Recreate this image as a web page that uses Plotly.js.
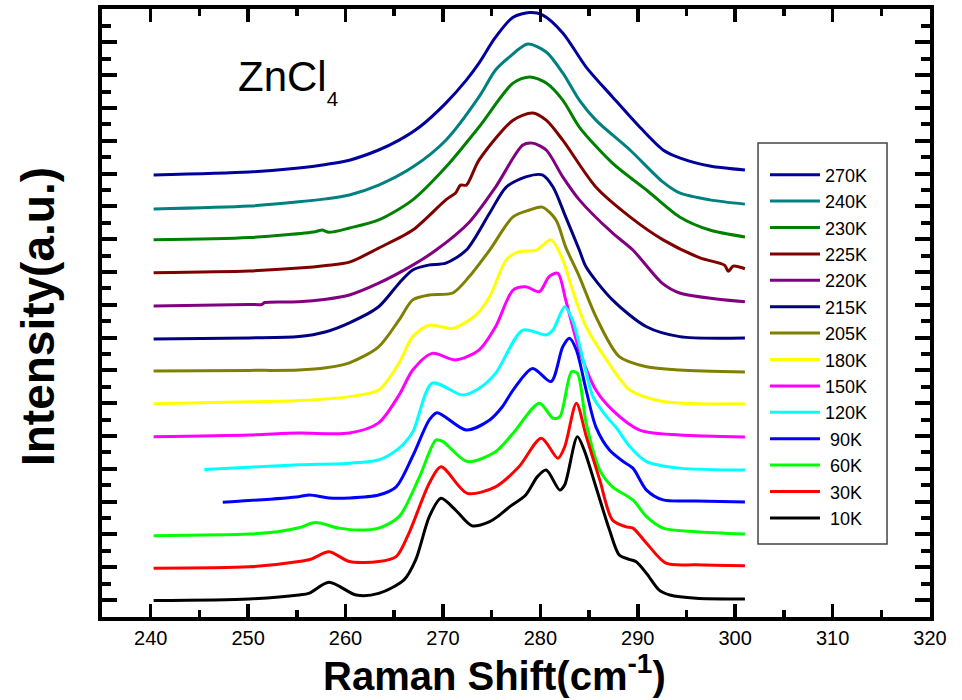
<!DOCTYPE html>
<html>
<head>
<meta charset="utf-8">
<script src="https://cdn.plot.ly/plotly-3.0.1.min.js"></script>
<style>html,body{margin:0;padding:0;background:#fff;}#chart{width:962px;height:700px;}</style>
</head>
<body>
<div id="chart"></div>
<script>
// Raman spectra of ZnCl4, offset by temperature
const labels = ['270K','240K','230K','225K','220K','215K','205K','180K','150K','120K','90K','60K','30K','10K'];
const colors = ['#00009c','#008080','#008000','#800000','#800080','#000080','#808000','#ffff00','#ff00ff','#00ffff','#0000ff','#00ff00','#ff0000','#000000'];

const x_270K = [240.3, 250.1, 255.2, 258.0, 260.4, 263.4, 265.5, 267.6, 270.3, 272.4, 273.7, 275.4, 277.2, 278.9, 280.2, 282.3, 284.7, 287.4, 290.2, 292.6, 294.3, 297.4, 301.0];
const y_270K = [12.96, 13.05, 13.17, 13.28, 13.41, 13.72, 14.02, 14.42, 15.15, 15.85, 16.37, 17.16, 17.77, 17.91, 17.84, 17.29, 16.25, 15.34, 14.42, 13.72, 13.48, 13.23, 13.11];

const x_240K = [240.3, 250.1, 255.2, 258.0, 260.4, 263.4, 266.9, 270.3, 273.7, 275.4, 276.8, 278.7, 280.6, 282.3, 284.0, 285.7, 289.2, 292.6, 294.3, 297.4, 301.0];
const y_240K = [11.92, 12.01, 12.14, 12.23, 12.35, 12.65, 13.20, 14.02, 15.34, 16.16, 16.55, 16.95, 16.71, 16.07, 15.24, 14.63, 13.72, 12.74, 12.41, 12.20, 12.07];

const x_230K = [240.3, 250.1, 256.9, 257.6, 258.3, 260.4, 263.4, 266.9, 270.3, 273.7, 277.2, 278.9, 280.6, 282.3, 284.0, 287.4, 290.9, 294.3, 297.4, 301.0];
const y_230K = [10.98, 11.05, 11.23, 11.28, 11.21, 11.34, 11.59, 12.20, 13.20, 14.42, 15.76, 15.95, 15.76, 15.24, 14.42, 13.32, 12.50, 11.68, 11.28, 11.07];

const x_225K = [240.3, 250.1, 255.2, 258.0, 260.4, 263.4, 266.9, 270.3, 271.3, 271.8, 272.4, 273.7, 277.2, 279.2, 280.6, 282.3, 285.7, 289.2, 292.6, 296.4, 298.9, 299.3, 299.8, 301.0];
const y_225K = [9.98, 10.03, 10.12, 10.20, 10.30, 10.73, 11.28, 12.20, 12.41, 12.65, 12.65, 13.41, 14.63, 14.85, 14.63, 14.02, 12.59, 11.68, 10.98, 10.43, 10.21, 10.02, 10.18, 10.10];

const x_220K = [240.3, 250.1, 251.4, 251.7, 255.2, 258.0, 260.4, 263.4, 266.9, 269.3, 272.7, 275.4, 278.2, 279.2, 280.6, 282.3, 284.0, 287.4, 289.5, 292.5, 294.3, 301.0];
const y_220K = [8.96, 9.01, 9.01, 9.07, 9.09, 9.17, 9.30, 9.66, 10.21, 10.67, 11.52, 12.59, 13.87, 13.93, 13.72, 12.90, 12.20, 11.19, 10.67, 9.66, 9.36, 9.09];

const x_215K = [240.3, 250.1, 255.2, 258.0, 260.4, 263.4, 265.5, 266.9, 268.5, 270.3, 272.4, 274.8, 276.5, 278.5, 280.2, 281.3, 282.6, 284.0, 284.7, 287.4, 290.9, 294.3, 301.0];
const y_215K = [7.96, 7.99, 8.03, 8.18, 8.45, 8.94, 9.66, 10.06, 10.21, 10.27, 10.67, 11.80, 12.59, 12.90, 12.96, 12.59, 11.68, 10.67, 10.15, 9.15, 8.33, 8.03, 7.99];

const x_205K = [240.3, 250.1, 255.2, 258.0, 260.4, 263.4, 265.5, 266.9, 268.6, 271.0, 272.7, 274.8, 277.2, 278.9, 280.2, 281.6, 282.6, 284.0, 285.7, 288.1, 290.9, 294.3, 301.0];
const y_205K = [6.98, 7.00, 7.01, 7.08, 7.23, 7.72, 8.54, 9.15, 9.30, 9.36, 9.86, 10.67, 11.68, 11.89, 11.98, 11.59, 10.76, 9.86, 8.64, 7.42, 7.11, 7.01, 6.95];

const x_180K = [240.3, 250.1, 255.2, 260.4, 263.4, 265.5, 266.9, 268.6, 271.0, 273.4, 274.8, 276.5, 277.8, 279.6, 281.1, 282.3, 283.3, 284.7, 286.8, 289.2, 292.6, 301.0];
const y_180K = [5.98, 6.04, 6.08, 6.20, 6.40, 7.23, 8.03, 8.38, 8.28, 8.69, 9.25, 10.37, 10.62, 10.67, 10.98, 10.37, 9.45, 8.33, 7.32, 6.40, 6.05, 5.98];

const x_150K = [240.3, 250.1, 255.2, 260.4, 263.4, 265.5, 266.9, 268.9, 271.3, 273.7, 275.4, 277.2, 278.5, 279.9, 280.9, 281.8, 282.6, 284.0, 285.7, 287.4, 290.2, 294.3, 301.0];
const y_150K = [4.98, 5.03, 5.09, 5.09, 5.40, 6.25, 7.01, 7.52, 7.32, 7.62, 8.33, 9.45, 9.55, 9.40, 9.86, 9.96, 9.15, 7.62, 6.40, 5.79, 5.18, 5.03, 4.97];

const x_120K = [245.5, 250.1, 255.2, 260.4, 263.4, 265.5, 266.9, 268.9, 272.0, 273.7, 275.4, 278.2, 280.6, 281.3, 282.5, 283.3, 284.4, 285.4, 286.8, 287.8, 289.2, 290.9, 294.3, 301.0];
const y_120K = [3.98, 4.05, 4.12, 4.17, 4.27, 4.63, 5.12, 6.61, 6.25, 6.45, 6.91, 8.23, 8.08, 8.23, 8.94, 8.54, 7.32, 6.20, 5.59, 5.25, 4.67, 4.22, 4.02, 3.96];

const x_90K = [247.4, 250.1, 255.2, 256.3, 258.3, 260.4, 263.4, 265.2, 266.9, 268.6, 269.4, 272.4, 274.8, 276.1, 277.2, 279.2, 281.1, 282.3, 283.0, 283.7, 284.7, 285.7, 287.1, 288.5, 289.5, 290.9, 292.6, 296.0, 301.0];
const y_90K = [2.98, 3.03, 3.15, 3.20, 3.11, 3.11, 3.20, 3.45, 4.39, 5.49, 5.71, 5.18, 5.49, 5.89, 6.40, 7.06, 6.66, 7.72, 7.98, 7.62, 6.40, 5.28, 4.57, 4.22, 4.02, 3.35, 3.05, 3.02, 2.99];

const x_60K = [240.3, 250.1, 253.0, 255.2, 256.9, 259.3, 261.4, 263.4, 265.5, 267.6, 269.3, 270.0, 272.5, 275.4, 277.2, 279.9, 281.3, 282.0, 283.2, 283.8, 284.7, 286.1, 287.4, 289.5, 290.9, 292.6, 296.0, 301.0];
const y_60K = [1.96, 2.01, 2.08, 2.20, 2.36, 2.19, 2.13, 2.19, 2.54, 3.76, 4.88, 4.83, 4.22, 4.52, 5.08, 6.00, 5.54, 5.59, 6.96, 6.91, 5.39, 3.96, 3.45, 3.05, 2.54, 2.19, 2.08, 2.01];

const x_30K = [240.3, 250.1, 255.2, 256.5, 258.3, 260.4, 263.4, 265.2, 266.5, 268.6, 269.8, 272.5, 275.4, 277.8, 280.1, 281.8, 282.5, 283.7, 284.7, 286.1, 287.4, 288.8, 289.5, 290.9, 292.9, 296.0, 301.0];
const y_30K = [0.97, 1.01, 1.17, 1.25, 1.47, 1.17, 1.17, 1.32, 2.03, 3.56, 4.06, 3.25, 3.45, 4.06, 4.93, 4.32, 4.67, 6.00, 5.00, 3.66, 2.44, 2.23, 2.19, 1.73, 1.12, 1.07, 1.04];

const x_10K = [240.3, 250.1, 255.2, 256.3, 258.3, 261.1, 263.4, 266.0, 267.2, 268.6, 269.8, 271.3, 273.0, 274.8, 275.6, 276.8, 278.5, 279.7, 280.6, 282.0, 282.5, 283.8, 284.5, 285.7, 287.1, 288.1, 289.1, 289.8, 290.9, 292.2, 293.3, 296.0, 301.0];
const y_10K = [-0.02, 0.03, 0.15, 0.21, 0.54, 0.15, 0.20, 0.61, 1.22, 2.54, 3.10, 2.74, 2.26, 2.39, 2.54, 2.83, 3.20, 3.76, 3.96, 3.35, 3.51, 4.98, 4.57, 3.45, 2.13, 1.37, 1.24, 1.17, 0.81, 0.30, 0.15, 0.05, 0.03];

const xs = [x_270K, x_240K, x_230K, x_225K, x_220K, x_215K, x_205K, x_180K, x_150K, x_120K, x_90K, x_60K, x_30K, x_10K];
const ys = [y_270K, y_240K, y_230K, y_225K, y_220K, y_215K, y_205K, y_180K, y_150K, y_120K, y_90K, y_60K, y_30K, y_10K];

const xTickVals = [240, 250, 260, 270, 280, 290, 300, 310, 320];
const xTickText = ['240', '250', '260', '270', '280', '290', '300', '310', '320'];

const FONT = 'Arial, "Liberation Sans", Helvetica, sans-serif';

const traces = labels.map((name, i) => ({
  type: 'scatter', mode: 'lines',
  x: xs[i], y: ys[i],
  name: (name.length === 3 ? '\u00a0' : '') + name,
  line: {color: colors[i], width: 3, shape: 'spline', smoothing: 0.8},
  hoverinfo: 'x+y+name'
}));

const axisCommon = {
  showline: true, linewidth: 4, linecolor: '#000', mirror: 'ticks',
  ticks: 'inside', tickcolor: '#000', showgrid: false, zeroline: false
};

const layout = {
  width: 962, height: 700,
  margin: {l: 102, r: 32, t: 9, b: 83, pad: 0},
  paper_bgcolor: '#fff', plot_bgcolor: '#fff',
  font: {family: FONT, color: '#000', size: 20},
  showlegend: true,
  xaxis: Object.assign({}, axisCommon, {
    range: [235, 320], tickvals: xTickVals, ticktext: xTickText,
    ticklen: 13, tickwidth: 3.5,
    tickfont: {family: FONT, size: 20, color: '#000'},
    minor: {dtick: 5, tick0: 0, ticks: 'inside', ticklen: 7, tickwidth: 3.5, tickcolor: '#000', showgrid: false}
  }),
  yaxis: Object.assign({}, axisCommon, {
    range: [-0.52, 18.02], dtick: 1, tick0: 0,
    ticklen: 15, tickwidth: 4, showticklabels: false,
    minor: {dtick: 0.5, tick0: 0, ticks: 'inside', ticklen: 9, tickwidth: 4, tickcolor: '#000', showgrid: false}
  }),
  legend: {
    x: 0.8007, y: 0.7574, xanchor: 'left', yanchor: 'top',
    bgcolor: 'rgba(0,0,0,0)', borderwidth: 0,
    font: {family: FONT, size: 18, color: '#000'},
    itemwidth: 50, tracegroupgap: 0
  },
  shapes: [
    {type: 'rect', xref: 'paper', yref: 'paper', x0: 0.7923, x1: 0.9481, y0: 0.1201, y1: 0.7796,
     line: {color: '#444', width: 1.5}, fillcolor: 'rgba(0,0,0,0)', layer: 'above'}
  ],
  annotations: [
    {text: '<b>Raman Shift(cm<sup>-1</sup>)</b>', xref: 'paper', yref: 'paper', x: 0.4746, y: -0.0925,
     xanchor: 'center', yanchor: 'middle', showarrow: false, font: {family: FONT, size: 40, color: '#000'}},
    {text: '<b>Intensity(a.u.)</b>', xref: 'paper', yref: 'paper', x: -0.0773, y: 0.495, textangle: -90,
     xanchor: 'center', yanchor: 'middle', showarrow: false, font: {family: FONT, size: 46, color: '#000'}},
    {text: 'ZnCl<sub><sub>4</sub></sub>', xref: 'paper', yref: 'paper', x: 0.162, y: 0.88,
     xanchor: 'left', yanchor: 'middle', showarrow: false, font: {family: FONT, size: 42, color: '#000'}}
  ]
};

Plotly.newPlot('chart', traces, layout, {displayModeBar: false, staticPlot: true});
</script>
</body>
</html>
